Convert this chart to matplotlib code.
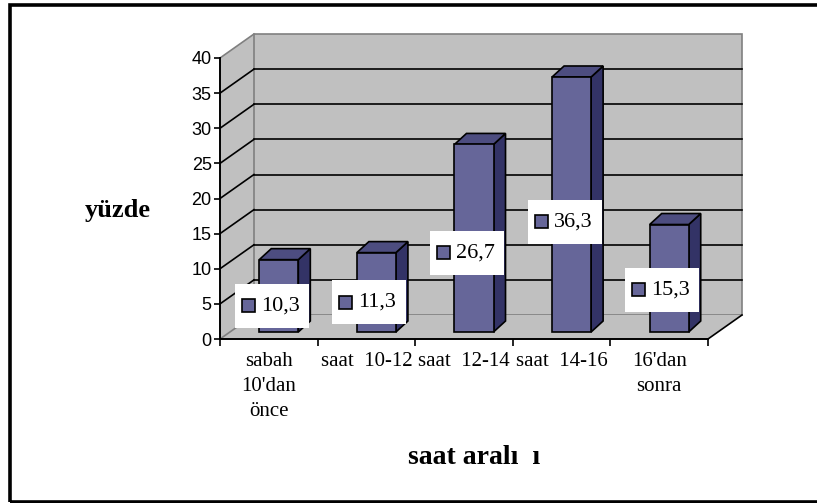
import matplotlib
matplotlib.use("Agg")
import matplotlib.pyplot as plt
from matplotlib.patches import Polygon, Rectangle

# data
categories = ["sabah\n10'dan\nönce", "saat  10-12", "saat  12-14", "saat  14-16", "16'dan\nsonra"]
values = [10.3, 11.3, 26.7, 36.3, 15.3]
value_labels = ["10,3", "11,3", "26,7", "36,3", "15,3"]
y_ticks = [0, 5, 10, 15, 20, 25, 30, 35, 40]

W, H = 817, 503
AX_L, AX_R, AX_T, AX_B = 220, 708, 58, 339   # front plane in pixels
YMAX = 40
CAT_PX = (AX_R - AX_L) / len(values)
UNIT_PX = (AX_B - AX_T) / YMAX

SERIF = "Liberation Serif"
SANS = "Liberation Sans"
WALL = "#c0c0c0"
EDGE = "#808080"
FRONT = "#666699"
TOP = "#4d4d80"
SIDE = "#333366"


def px_x(p):
    return p / CAT_PX


def px_y(p):
    return p / UNIT_PX


fig = plt.figure(figsize=(W / 100, H / 100), dpi=100)
ax = fig.add_axes([AX_L / W, 1 - AX_B / H, (AX_R - AX_L) / W, (AX_B - AX_T) / H])
ax.set_xlim(0, len(values))
ax.set_ylim(0, YMAX)
ax.patch.set_visible(False)

n = len(values)
wdx, wdy = px_x(34), px_y(24)

# walls and floor
left_wall = Polygon([(0, 0), (0, YMAX), (wdx, YMAX + wdy), (wdx, wdy)],
                    fc=WALL, ec="none", clip_on=False, zorder=0)
back_wall = Polygon([(wdx, wdy), (n + wdx, wdy), (n + wdx, YMAX + wdy), (wdx, YMAX + wdy)],
                    fc=WALL, ec=EDGE, lw=1.2, clip_on=False, zorder=0)
floor = Polygon([(0, 0), (n, 0), (n + wdx, wdy), (wdx, wdy)],
                fc=WALL, ec="none", clip_on=False, zorder=0)
for p in (left_wall, back_wall, floor):
    ax.add_patch(p)

# gridlines
for v in y_ticks[1:-1]:
    ax.plot([wdx, n + wdx], [v + wdy, v + wdy], color="black", lw=1.2, clip_on=False, zorder=1)
    ax.plot([0, wdx], [v, v + wdy], color="black", lw=1.2, clip_on=False, zorder=1)
ax.plot([0, wdx], [YMAX, YMAX + wdy], color=EDGE, lw=1.2, clip_on=False, zorder=1)
ax.plot([0, wdx], [0, wdy], color=EDGE, lw=1.2, clip_on=False, zorder=1)
ax.plot([n, n + wdx], [0, wdy], color="black", lw=1.2, clip_on=False, zorder=1)

# bars
bfx, bfy = px_x(10), px_y(7)
bdx, bdy = px_x(12), px_y(11)
bw = 0.4
for i, v in enumerate(values):
    x0 = i + 0.5 - bw / 2 + bfx
    x1 = x0 + bw
    y0 = bfy
    y1 = v + bfy
    side = Polygon([(x1, y0), (x1 + bdx, y0 + bdy), (x1 + bdx, y1 + bdy), (x1, y1)],
                   fc=SIDE, ec="black", lw=1.2, clip_on=False, zorder=2)
    top = Polygon([(x0, y1), (x1, y1), (x1 + bdx, y1 + bdy), (x0 + bdx, y1 + bdy)],
                  fc=TOP, ec="black", lw=1.2, clip_on=False, zorder=2)
    front = Rectangle((x0, y0), bw, v, fc=FRONT, ec="black", lw=1.2, clip_on=False, zorder=3)
    for p in (side, top, front):
        ax.add_patch(p)

# data labels
for i, (v, lab) in enumerate(zip(values, value_labels)):
    cx = i + 0.5 + px_x(3)
    cy = 0.46 * v
    bl = cx - px_x(37)
    ax.add_patch(Rectangle((bl, cy - px_y(22)), px_x(74), px_y(44),
                           fc="white", ec="none", clip_on=False, zorder=5))
    ax.add_patch(Rectangle((bl + px_x(7), cy - px_y(6.5)), px_x(13), px_y(13),
                           fc=FRONT, ec="black", lw=1.2, clip_on=False, zorder=6))
    ax.text(bl + px_x(26), cy, lab, ha="left", va="center", fontsize=16,
            family=SERIF, zorder=7)

# axes
for s in ("top", "right"):
    ax.spines[s].set_visible(False)
for s in ("left", "bottom"):
    ax.spines[s].set_color("black")
    ax.spines[s].set_linewidth(1.4)
    ax.spines[s].set_zorder(4)

ax.set_yticks(y_ticks)
ax.set_yticklabels([str(t) for t in y_ticks], fontsize=13, family=SANS)
ax.tick_params(axis="y", direction="out", length=4, width=1.2, pad=2)

ax.set_xticks(range(n + 1))
ax.set_xticklabels([])
ax.set_xticks([i + 0.5 for i in range(n)], minor=True)
ax.set_xticklabels(categories, minor=True, fontsize=15, family=SERIF, linespacing=1.45)
ax.tick_params(axis="x", which="major", direction="out", length=5, width=1.2)
ax.tick_params(axis="x", which="minor", length=0, pad=9)

fig.text(118 / W, 1 - 210 / H, "yüzde", ha="center", va="center",
         fontsize=19, fontweight="bold", family=SERIF)
fig.text(474 / W, 1 - 458 / H, "saat aralı  ı", ha="center", va="center",
         fontsize=20, fontweight="bold", family=SERIF)

# outer border
fig.add_artist(Rectangle((10 / W, 1 - 501.5 / H), 830 / W, (501.5 - 4.7) / H,
                         transform=fig.transFigure, fill=False, ec="black", lw=2.6))

fig.savefig("out.png", dpi=100)
